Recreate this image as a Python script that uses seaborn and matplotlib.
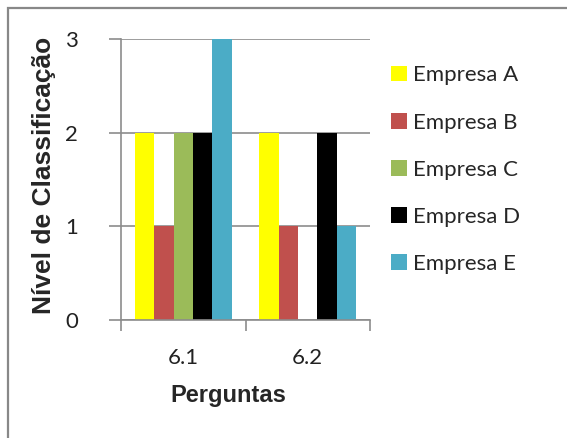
import matplotlib
matplotlib.use("Agg")
import matplotlib.pyplot as plt
from matplotlib.patches import Rectangle
import seaborn as sns
import pandas as pd

perguntas = ["6.1", "6.2"]
empresas = ["Empresa A", "Empresa B", "Empresa C", "Empresa D", "Empresa E"]
valores_61 = [2, 1, 2, 2, 3]
valores_62 = [2, 1, 0, 2, 1]
cores = ["#FFFF00", "#C0504D", "#9BBB59", "#000000", "#4BACC6"]
yticks = [0, 1, 2, 3]

df = pd.DataFrame({
    "Pergunta": [perguntas[0]] * len(empresas) + [perguntas[1]] * len(empresas),
    "Empresa": empresas * 2,
    "Valor": valores_61 + valores_62,
})

sns.set_style("white")
plt.rcParams["font.family"] = ["Lato", "DejaVu Sans"]

fig = plt.figure(figsize=(5.67, 4.38), dpi=100)
ax = fig.add_axes([0.2134, 0.2694, 0.4392, 0.6416])

sns.barplot(data=df, x="Pergunta", y="Valor", hue="Empresa", order=perguntas,
            hue_order=empresas, palette=cores, width=0.78, gap=0,
            edgecolor="none", linewidth=0, saturation=1, ax=ax, errorbar=None)

ax.set_ylim(0, 3)
ax.set_xlim(-0.5, 1.5)
ax.set_yticks(yticks)
ax.set_yticklabels([str(v) for v in yticks], fontsize=16, color="#222222")
ax.yaxis.grid(True, color="#8C8C8C", linewidth=1.2)
ax.set_axisbelow(True)

# category boundary ticks on the x axis
ax.set_xticks([-0.5, 0.5, 1.5])
ax.set_xticklabels([])
ax.set_xticks([0, 1], minor=True)
ax.set_xticklabels(perguntas, minor=True, fontsize=16, color="#222222")
ax.tick_params(axis="x", which="major", direction="out", length=8, width=1.2,
               color="#8C8C8C", bottom=True)
ax.tick_params(axis="x", which="minor", length=0, pad=20)
ax.tick_params(axis="y", direction="out", length=9, width=1.2, color="#8C8C8C",
               left=True, pad=22)

for side in ["top", "right"]:
    ax.spines[side].set_visible(False)
for side in ["left", "bottom"]:
    ax.spines[side].set_color("#8C8C8C")
    ax.spines[side].set_linewidth(1.2)

ax.set_xlabel("Perguntas", fontsize=17, fontweight="bold",
              family=["Liberation Sans", "DejaVu Sans"])
ax.xaxis.set_label_coords(0.43, -0.27)
ax.xaxis.label.set_va("center")
ax.set_ylabel("Nível de Classificação", fontsize=19, fontweight="bold",
              family=["Liberation Sans", "DejaVu Sans"])
ax.yaxis.set_label_coords(-0.31, 0.516)
ax.yaxis.label.set_va("center")

handles, labels = ax.get_legend_handles_labels()
ax.legend_.remove()
fig.legend(handles, labels, loc="upper left", bbox_to_anchor=(0.674, 0.871),
           frameon=False, fontsize=16, handlelength=0.7, handleheight=0.7,
           handletextpad=0.3, labelspacing=1.22, borderaxespad=0)

fig.patches.append(Rectangle((8 / 567, -0.1), 1.2, 1.1 - 8 / 438,
                             transform=fig.transFigure, fill=False,
                             edgecolor="#888888", linewidth=1.6))

fig.savefig("out.png", dpi=100)
